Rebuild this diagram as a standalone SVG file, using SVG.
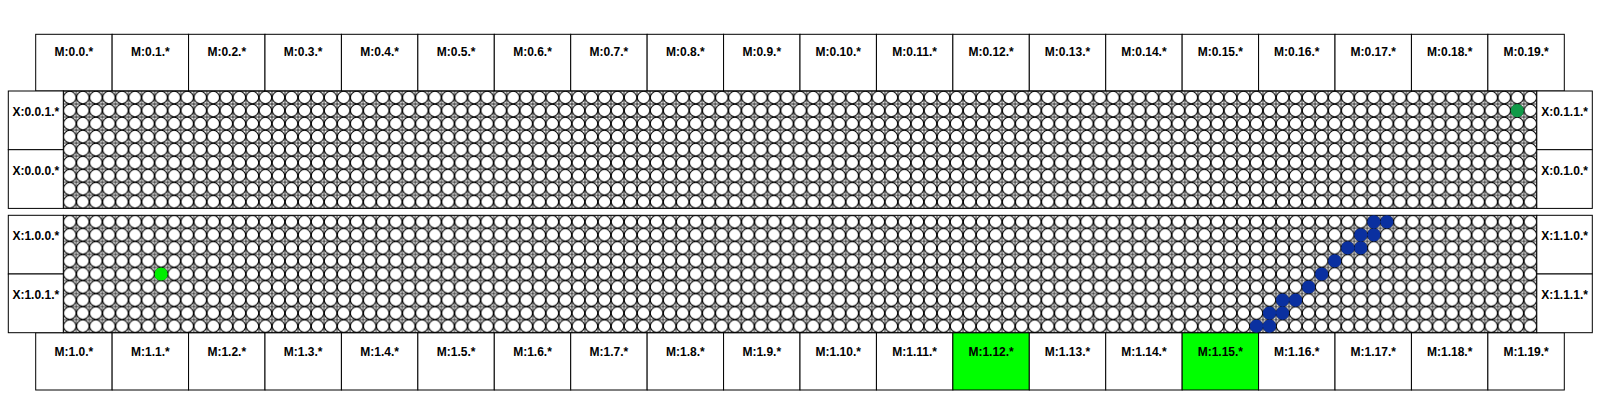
<svg xmlns="http://www.w3.org/2000/svg" width="1600" height="400" viewBox="0 0 1600 400">
<style>
.box{fill:#ffffff;stroke:#000000;stroke-width:1}
.hl{fill:#00ff00;stroke:#000000;stroke-width:1}
.lbl{font-family:"Liberation Sans",Arial,sans-serif;font-weight:bold;font-size:12px;fill:#000000;text-anchor:middle}
.grid{fill:url(#cells);stroke:#000000;stroke-width:1}
.blue{fill:#0a30a0}
</style>
<defs>
<pattern id="cells" patternUnits="userSpaceOnUse" x="0" y="0" width="13.04" height="13.04">
<rect x="0" y="0" width="13.04" height="13.04" fill="#ffffff"/>
<path d="M0,0H13.04M0,0V13.04M0,13.04H13.04M13.04,0V13.04" stroke="#000000" stroke-width="0.8" fill="none"/>
<circle cx="6.52" cy="6.52" r="6.25" fill="#ffffff" stroke="#000000" stroke-width="1"/>
</pattern>
</defs>
<rect x="0" y="0" width="1600" height="400" fill="#ffffff"/>

<g id="top-memory">
<g id="m-0-0"><rect class="box" x="35.7" y="34.3" width="76.43" height="56.7"/><text class="lbl" x="73.92" y="56">M:0.0.*</text></g>
<g id="m-0-1"><rect class="box" x="112.13" y="34.3" width="76.43" height="56.7"/><text class="lbl" x="150.35" y="56">M:0.1.*</text></g>
<g id="m-0-2"><rect class="box" x="188.56" y="34.3" width="76.43" height="56.7"/><text class="lbl" x="226.78" y="56">M:0.2.*</text></g>
<g id="m-0-3"><rect class="box" x="264.99" y="34.3" width="76.43" height="56.7"/><text class="lbl" x="303.21" y="56">M:0.3.*</text></g>
<g id="m-0-4"><rect class="box" x="341.42" y="34.3" width="76.43" height="56.7"/><text class="lbl" x="379.64" y="56">M:0.4.*</text></g>
<g id="m-0-5"><rect class="box" x="417.85" y="34.3" width="76.43" height="56.7"/><text class="lbl" x="456.07" y="56">M:0.5.*</text></g>
<g id="m-0-6"><rect class="box" x="494.28" y="34.3" width="76.43" height="56.7"/><text class="lbl" x="532.5" y="56">M:0.6.*</text></g>
<g id="m-0-7"><rect class="box" x="570.71" y="34.3" width="76.43" height="56.7"/><text class="lbl" x="608.93" y="56">M:0.7.*</text></g>
<g id="m-0-8"><rect class="box" x="647.14" y="34.3" width="76.43" height="56.7"/><text class="lbl" x="685.36" y="56">M:0.8.*</text></g>
<g id="m-0-9"><rect class="box" x="723.57" y="34.3" width="76.43" height="56.7"/><text class="lbl" x="761.79" y="56">M:0.9.*</text></g>
<g id="m-0-10"><rect class="box" x="800" y="34.3" width="76.43" height="56.7"/><text class="lbl" x="838.22" y="56">M:0.10.*</text></g>
<g id="m-0-11"><rect class="box" x="876.43" y="34.3" width="76.43" height="56.7"/><text class="lbl" x="914.65" y="56">M:0.11.*</text></g>
<g id="m-0-12"><rect class="box" x="952.86" y="34.3" width="76.43" height="56.7"/><text class="lbl" x="991.08" y="56">M:0.12.*</text></g>
<g id="m-0-13"><rect class="box" x="1029.29" y="34.3" width="76.43" height="56.7"/><text class="lbl" x="1067.51" y="56">M:0.13.*</text></g>
<g id="m-0-14"><rect class="box" x="1105.72" y="34.3" width="76.43" height="56.7"/><text class="lbl" x="1143.94" y="56">M:0.14.*</text></g>
<g id="m-0-15"><rect class="box" x="1182.15" y="34.3" width="76.43" height="56.7"/><text class="lbl" x="1220.37" y="56">M:0.15.*</text></g>
<g id="m-0-16"><rect class="box" x="1258.58" y="34.3" width="76.43" height="56.7"/><text class="lbl" x="1296.8" y="56">M:0.16.*</text></g>
<g id="m-0-17"><rect class="box" x="1335.01" y="34.3" width="76.43" height="56.7"/><text class="lbl" x="1373.23" y="56">M:0.17.*</text></g>
<g id="m-0-18"><rect class="box" x="1411.44" y="34.3" width="76.43" height="56.7"/><text class="lbl" x="1449.66" y="56">M:0.18.*</text></g>
<g id="m-0-19"><rect class="box" x="1487.87" y="34.3" width="76.43" height="56.7"/><text class="lbl" x="1526.09" y="56">M:0.19.*</text></g>
</g>

<g id="bottom-memory">
<g id="m-1-0"><rect class="box" x="35.7" y="332.7" width="76.43" height="57.3"/><text class="lbl" x="73.92" y="356">M:1.0.*</text></g>
<g id="m-1-1"><rect class="box" x="112.13" y="332.7" width="76.43" height="57.3"/><text class="lbl" x="150.35" y="356">M:1.1.*</text></g>
<g id="m-1-2"><rect class="box" x="188.56" y="332.7" width="76.43" height="57.3"/><text class="lbl" x="226.78" y="356">M:1.2.*</text></g>
<g id="m-1-3"><rect class="box" x="264.99" y="332.7" width="76.43" height="57.3"/><text class="lbl" x="303.21" y="356">M:1.3.*</text></g>
<g id="m-1-4"><rect class="box" x="341.42" y="332.7" width="76.43" height="57.3"/><text class="lbl" x="379.64" y="356">M:1.4.*</text></g>
<g id="m-1-5"><rect class="box" x="417.85" y="332.7" width="76.43" height="57.3"/><text class="lbl" x="456.07" y="356">M:1.5.*</text></g>
<g id="m-1-6"><rect class="box" x="494.28" y="332.7" width="76.43" height="57.3"/><text class="lbl" x="532.5" y="356">M:1.6.*</text></g>
<g id="m-1-7"><rect class="box" x="570.71" y="332.7" width="76.43" height="57.3"/><text class="lbl" x="608.93" y="356">M:1.7.*</text></g>
<g id="m-1-8"><rect class="box" x="647.14" y="332.7" width="76.43" height="57.3"/><text class="lbl" x="685.36" y="356">M:1.8.*</text></g>
<g id="m-1-9"><rect class="box" x="723.57" y="332.7" width="76.43" height="57.3"/><text class="lbl" x="761.79" y="356">M:1.9.*</text></g>
<g id="m-1-10"><rect class="box" x="800" y="332.7" width="76.43" height="57.3"/><text class="lbl" x="838.22" y="356">M:1.10.*</text></g>
<g id="m-1-11"><rect class="box" x="876.43" y="332.7" width="76.43" height="57.3"/><text class="lbl" x="914.65" y="356">M:1.11.*</text></g>
<g id="m-1-12"><rect class="hl" x="952.86" y="332.7" width="76.43" height="57.3"/><text class="lbl" x="991.08" y="356">M:1.12.*</text></g>
<g id="m-1-13"><rect class="box" x="1029.29" y="332.7" width="76.43" height="57.3"/><text class="lbl" x="1067.51" y="356">M:1.13.*</text></g>
<g id="m-1-14"><rect class="box" x="1105.72" y="332.7" width="76.43" height="57.3"/><text class="lbl" x="1143.94" y="356">M:1.14.*</text></g>
<g id="m-1-15"><rect class="hl" x="1182.15" y="332.7" width="76.43" height="57.3"/><text class="lbl" x="1220.37" y="356">M:1.15.*</text></g>
<g id="m-1-16"><rect class="box" x="1258.58" y="332.7" width="76.43" height="57.3"/><text class="lbl" x="1296.8" y="356">M:1.16.*</text></g>
<g id="m-1-17"><rect class="box" x="1335.01" y="332.7" width="76.43" height="57.3"/><text class="lbl" x="1373.23" y="356">M:1.17.*</text></g>
<g id="m-1-18"><rect class="box" x="1411.44" y="332.7" width="76.43" height="57.3"/><text class="lbl" x="1449.66" y="356">M:1.18.*</text></g>
<g id="m-1-19"><rect class="box" x="1487.87" y="332.7" width="76.43" height="57.3"/><text class="lbl" x="1526.09" y="356">M:1.19.*</text></g>
</g>

<g id="grid-0">
<g transform="translate(63.3,91)"><rect class="grid" x="0" y="0" width="1473.5" height="117.4"/></g>
<circle id="pe-0-111-1" cx="1517.26" cy="110.56" r="6.6" fill="#109a48"/>
</g>

<g id="grid-1">
<g transform="translate(63.3,215.3)"><rect class="grid" x="0" y="0" width="1473.5" height="117.4"/></g>
<circle id="pe-1-7-4" cx="161.1" cy="273.98" r="6.6" fill="#00ee00"/>
<g id="path-1">
<circle class="blue" cx="1373.82" cy="221.82" r="6.6"/>
<circle class="blue" cx="1386.86" cy="221.82" r="6.6"/>
<circle class="blue" cx="1360.78" cy="234.86" r="6.6"/>
<circle class="blue" cx="1373.82" cy="234.86" r="6.6"/>
<circle class="blue" cx="1347.74" cy="247.9" r="6.6"/>
<circle class="blue" cx="1360.78" cy="247.9" r="6.6"/>
<circle class="blue" cx="1334.7" cy="260.94" r="6.6"/>
<circle class="blue" cx="1321.66" cy="273.98" r="6.6"/>
<circle class="blue" cx="1308.62" cy="287.02" r="6.6"/>
<circle class="blue" cx="1282.54" cy="300.06" r="6.6"/>
<circle class="blue" cx="1295.58" cy="300.06" r="6.6"/>
<circle class="blue" cx="1269.5" cy="313.1" r="6.6"/>
<circle class="blue" cx="1282.54" cy="313.1" r="6.6"/>
<circle class="blue" cx="1256.46" cy="326.14" r="6.6"/>
<circle class="blue" cx="1269.5" cy="326.14" r="6.6"/>
</g>
</g>

<g id="x-0-0-1"><rect class="box" x="8.3" y="91" width="55" height="58.7"/><text class="lbl" x="35.8" y="115.5">X:0.0.1.*</text></g>
<g id="x-0-0-0"><rect class="box" x="8.3" y="149.7" width="55" height="58.7"/><text class="lbl" x="35.8" y="174.5">X:0.0.0.*</text></g>
<g id="x-0-1-1"><rect class="box" x="1536.8" y="91" width="55.5" height="58.7"/><text class="lbl" x="1564.55" y="115.5">X:0.1.1.*</text></g>
<g id="x-0-1-0"><rect class="box" x="1536.8" y="149.7" width="55.5" height="58.7"/><text class="lbl" x="1564.55" y="174.5">X:0.1.0.*</text></g>
<g id="x-1-0-0"><rect class="box" x="8.3" y="215.3" width="55" height="58.7"/><text class="lbl" x="35.8" y="239.5">X:1.0.0.*</text></g>
<g id="x-1-0-1"><rect class="box" x="8.3" y="274" width="55" height="58.7"/><text class="lbl" x="35.8" y="298.5">X:1.0.1.*</text></g>
<g id="x-1-1-0"><rect class="box" x="1536.8" y="215.3" width="55.5" height="58.7"/><text class="lbl" x="1564.55" y="239.5">X:1.1.0.*</text></g>
<g id="x-1-1-1"><rect class="box" x="1536.8" y="274" width="55.5" height="58.7"/><text class="lbl" x="1564.55" y="298.5">X:1.1.1.*</text></g>

<g id="connectors"/>
</svg>
